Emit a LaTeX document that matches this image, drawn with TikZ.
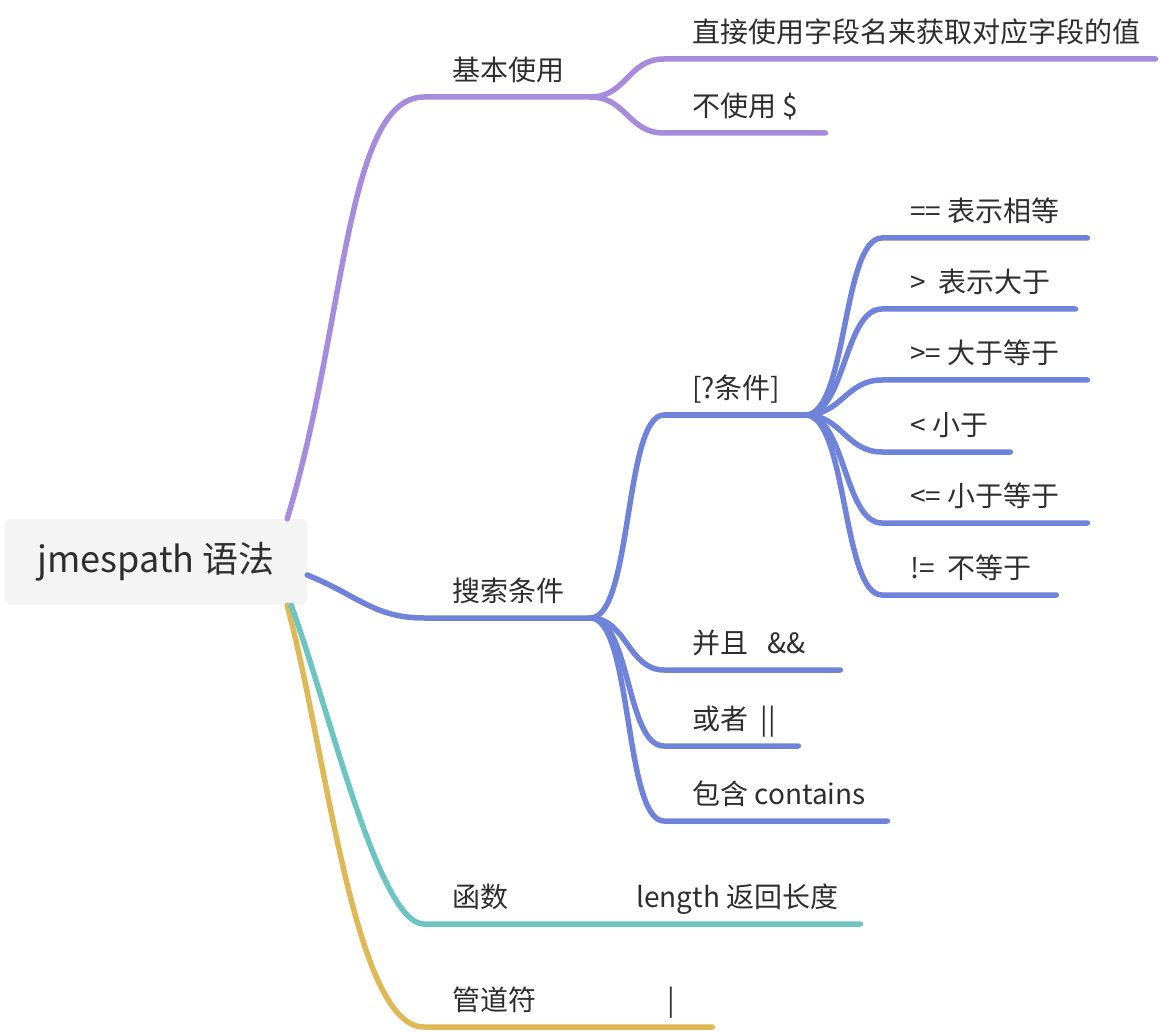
\documentclass[tikz,border=0pt]{standalone}
\usepackage{fontspec}
\setmainfont{Noto Sans CJK SC}
\usepackage{xcolor}
\definecolor{mapink}{HTML}{2E2E2E}
\definecolor{rootgray}{HTML}{F4F4F5}
\definecolor{mappurple}{HTML}{A78BDD}
\definecolor{mapblue}{HTML}{7083DB}
\definecolor{mapteal}{HTML}{6CC5C2}
\definecolor{mapgold}{HTML}{DFB858}

%% 主题文字：左侧留白后写字，盒宽即下划线长
\newcommand{\lbl}[2]{\makebox[#1][l]{\hspace*{28pt}#2}}

\begin{document}
\begin{tikzpicture}[x=1pt, y=-1pt, line cap=round,
                    every node/.style={mapink, font=\fontsize{28}{33}\selectfont},
                    topic/.style={anchor=south west, inner xsep=0pt, inner ysep=10pt,
                                  text height=21pt, text depth=6pt},
                    rootbox/.style={fill=rootgray, rounded corners=6pt, inner sep=0pt,
                                    minimum width=302pt, minimum height=86pt,
                                    font=\fontsize{36}{42}\selectfont},
                    branch/.style={line width=5.5pt}]

  \useasboundingbox (0,0) rectangle (1160,1032);

  %% 中心主题
  \node[rootbox] (root) at (156,562) {jmespath 语法};

  %% 一级主题
  \node[topic] (basic)  at (424,97)   {\lbl{166pt}{基本使用}};
  \node[topic] (search) at (424,618)  {\lbl{166pt}{搜索条件}};
  \node[topic] (func)   at (424,924)  {\lbl{436pt}{\makebox[184pt][l]{函数}length 返回长度}};
  \node[topic] (pipe)   at (424,1027) {\lbl{288pt}{\makebox[215pt][l]{管道符}|}};

  %% 基本使用 的子主题
  \node[topic] (byname)   at (664,59)  {\lbl{491pt}{直接使用字段名来获取对应字段的值}};
  \node[topic] (nodollar) at (664,133) {\lbl{161pt}{不使用 \$}};

  %% 搜索条件 的子主题
  \node[topic] (cond)     at (664,415) {\lbl{141pt}{[?条件]}};
  \node[topic] (andop)    at (664,670) {\lbl{176pt}{并且~~~\&\&}};
  \node[topic] (orop)     at (664,746) {\lbl{134pt}{或者~~||}};
  \node[topic] (contains) at (664,821) {\lbl{223pt}{包含 contains}};

  %% [?条件] 的比较运算
  \node[topic] (eq) at (882,238) {\lbl{205pt}{==~表示相等}};
  \node[topic] (gt) at (882,309) {\lbl{193pt}{>~~表示大于}};
  \node[topic] (ge) at (882,380) {\lbl{205pt}{>=~大于等于}};
  \node[topic] (lt) at (882,452) {\lbl{128pt}{<~小于}};
  \node[topic] (le) at (882,523) {\lbl{205pt}{<=~小于等于}};
  \node[topic] (ne) at (882,595) {\lbl{174pt}{!=~~不等于}};

  %% 中心主题到一级主题的分支
  \draw[branch, mapgold] ([xshift=-20pt]root.south east)
    .. controls +(40,150) and +(-70,0) .. (pipe.south west) -- (pipe.south east);
  \draw[branch, mapteal] ([xshift=-16pt]root.south east)
    .. controls +(40,110) and +(-45,0) .. (func.south west) -- (func.south east);
  \draw[branch, mappurple] ([xshift=-20pt]root.north east)
    .. controls +(58,-189) and +(-79,0) .. (basic.south west) -- (basic.south east);
  \draw[branch, mapblue] ([yshift=-13pt]root.east)
    .. controls +(50,20) and +(-50,0) .. (search.south west) -- (search.south east);

  %% 基本使用 -> 子主题
  \draw[branch, mappurple] (basic.south east)
    .. controls +(36,0) and +(-36,0) .. (byname.south west) -- (byname.south east);
  \draw[branch, mappurple] (basic.south east)
    .. controls +(36,0) and +(-36,0) .. (nodollar.south west) -- (nodollar.south east);

  %% 搜索条件 -> 子主题
  \draw[branch, mapblue] (search.south east)
    .. controls +(42,0) and +(-40,0) .. (cond.south west) -- (cond.south east);
  \draw[branch, mapblue] (search.south east)
    .. controls +(36,0) and +(-36,0) .. (andop.south west) -- (andop.south east);
  \draw[branch, mapblue] (search.south east)
    .. controls +(40,0) and +(-38,0) .. (orop.south west) -- (orop.south east);
  \draw[branch, mapblue] (search.south east)
    .. controls +(42,0) and +(-40,0) .. (contains.south west) -- (contains.south east);

  %% [?条件] -> 比较运算
  \draw[branch, mapblue] (cond.south east)
    .. controls +(42,0) and +(-40,0) .. (eq.south west) -- (eq.south east);
  \draw[branch, mapblue] (cond.south east)
    .. controls +(40,0) and +(-38,0) .. (gt.south west) -- (gt.south east);
  \draw[branch, mapblue] (cond.south east)
    .. controls +(36,0) and +(-36,0) .. (ge.south west) -- (ge.south east);
  \draw[branch, mapblue] (cond.south east)
    .. controls +(36,0) and +(-36,0) .. (lt.south west) -- (lt.south east);
  \draw[branch, mapblue] (cond.south east)
    .. controls +(40,0) and +(-38,0) .. (le.south west) -- (le.south east);
  \draw[branch, mapblue] (cond.south east)
    .. controls +(42,0) and +(-40,0) .. (ne.south west) -- (ne.south east);

\end{tikzpicture}
\end{document}
